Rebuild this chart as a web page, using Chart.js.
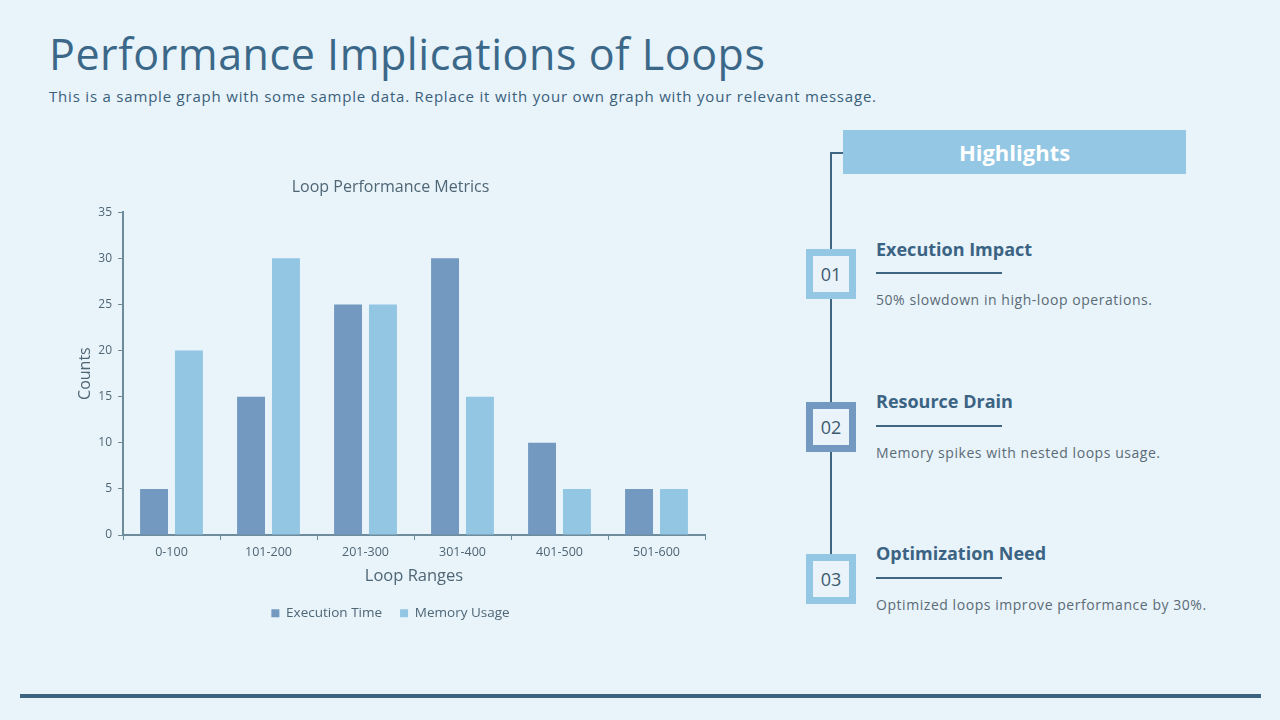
<!DOCTYPE html>
<html lang="en">
<head>
<meta charset="UTF-8">
<title>Performance Implications of Loops</title>
<script src="https://cdn.jsdelivr.net/npm/chart.js"></script>
<style>
    html, body { margin: 0; padding: 0; }
    body {
        width: 1280px; height: 720px; overflow: hidden;
        background: #e8f3fa; position: relative;
        font-family: "Open Sans", "DejaVu Sans", sans-serif;
    }
    .title {
        position: absolute; left: 49px; top: 24px; margin: 0;
        font-size: 43px; font-weight: 400; color: #3b6888; letter-spacing: 0.55px;
    }
    .subtitle {
        position: absolute; left: 49px; top: 86px; margin: 0;
        font-size: 15px; color: #3a5f7a; letter-spacing: 0.8px;
    }
    .chartBox { position: absolute; left: 60px; top: 170px; width: 656px; height: 460px; }
    .vline { position: absolute; left: 830px; top: 152px; width: 2px; height: 404px; background: #3e6680; }
    .hline { position: absolute; left: 830px; top: 152px; width: 13px; height: 2px; background: #3e6680; }
    .hl-head {
        position: absolute; left: 843px; top: 130px; width: 343px; height: 44px;
        background: #93c7e4; color: #fff; font-weight: 700; font-size: 22px;
        display: flex; align-items: center; justify-content: center;
    }
    .num {
        position: absolute; left: 806px; width: 36px; height: 36px;
        border: 7px solid #93c7e4; background: #eaf3fa;
        color: #3c5a6e; font-size: 18px;
        display: flex; align-items: center; justify-content: center;
    }
    .num.dark { border-color: #7499c1; }
    .item-h { position: absolute; left: 876px; font-size: 18px; font-weight: 700; color: #3b6383; }
    .item-line { position: absolute; left: 876px; width: 126px; height: 2px; background: #3e6680; }
    .item-t { position: absolute; left: 876px; font-size: 14px; color: #5b6b76; letter-spacing: 0.55px; }
    .footer { position: absolute; left: 20px; top: 694px; width: 1241px; height: 4px; background: #3c6480; }
</style>
</head>
<body>
    <h1 class="title">Performance Implications of Loops</h1>
    <p class="subtitle">This is a sample graph with some sample data. Replace it with your own graph with your relevant message.</p>

    <div class="chartBox"><canvas id="loopChart" width="656" height="460"></canvas></div>

    <div class="vline"></div>
    <div class="hline"></div>
    <div class="hl-head">Highlights</div>

    <div class="num" style="top:249px">01</div>
    <div class="item-h" style="top:237px">Execution Impact</div>
    <div class="item-line" style="top:272px"></div>
    <div class="item-t" style="top:290px">50% slowdown in high-loop operations.</div>

    <div class="num dark" style="top:402px">02</div>
    <div class="item-h" style="top:389px">Resource Drain</div>
    <div class="item-line" style="top:425px"></div>
    <div class="item-t" style="top:443px">Memory spikes with nested loops usage.</div>

    <div class="num" style="top:554px">03</div>
    <div class="item-h" style="top:541px">Optimization Need</div>
    <div class="item-line" style="top:577px"></div>
    <div class="item-t" style="top:595px">Optimized loops improve performance by 30%.</div>

    <div class="footer"></div>

    <script>
        // chart data
        const loopRanges    = ['0-100', '101-200', '201-300', '301-400', '401-500', '501-600'];
        const executionTime = [5, 15, 25, 30, 10, 5];
        const memoryUsage   = [20, 30, 25, 15, 5, 5];

        const axisColor = '#6e8c9c';
        const textColor = '#4f6675';
        const fontFam   = '"Open Sans", "DejaVu Sans", sans-serif';

        const ctx = document.getElementById('loopChart').getContext('2d');
        new Chart(ctx, {
            type: 'bar',
            data: {
                labels: loopRanges,
                datasets: [
                    { label: 'Execution Time', data: executionTime, backgroundColor: '#7499c1' },
                    { label: 'Memory Usage',   data: memoryUsage,   backgroundColor: '#92c6e3' }
                ]
            },
            options: {
                responsive: false,
                animation: false,
                categoryPercentage: 0.72,
                barPercentage: 0.8,
                layout: { padding: { left: 16, right: 11, bottom: 0 } },
                plugins: {
                    title: {
                        display: true,
                        text: 'Loop Performance Metrics',
                        color: textColor,
                        font: { family: fontFam, size: 16, weight: 'normal' },
                        padding: { top: 8, bottom: 15 }
                    },
                    legend: {
                        position: 'bottom',
                        labels: {
                            color: textColor, boxWidth: 8, boxHeight: 8, padding: 18,
                            font: { family: fontFam, size: 13.5 }
                        }
                    },
                    tooltip: { enabled: false }
                },
                scales: {
                    x: {
                        grid: { drawOnChartArea: false, color: axisColor, tickLength: 5 },
                        border: { color: axisColor, width: 2 },
                        ticks: { color: textColor, font: { family: fontFam, size: 12.5 }, padding: 5 },
                        title: { display: true, text: 'Loop Ranges', color: textColor, font: { family: fontFam, size: 16.5, lineHeight: 1 }, padding: { top: 3 } }
                    },
                    y: {
                        min: 0, max: 35,
                        afterFit: function (scale) { scale.width = 47; },
                        grid: { drawOnChartArea: false, color: axisColor, tickLength: 5 },
                        border: { color: axisColor, width: 2 },
                        ticks: { stepSize: 5, color: textColor, font: { family: fontFam, size: 12 }, padding: 6 },
                        title: { display: true, text: 'Counts', color: textColor, font: { family: fontFam, size: 16 }, padding: 0 }
                    }
                }
            }
        });
    </script>
</body>
</html>
